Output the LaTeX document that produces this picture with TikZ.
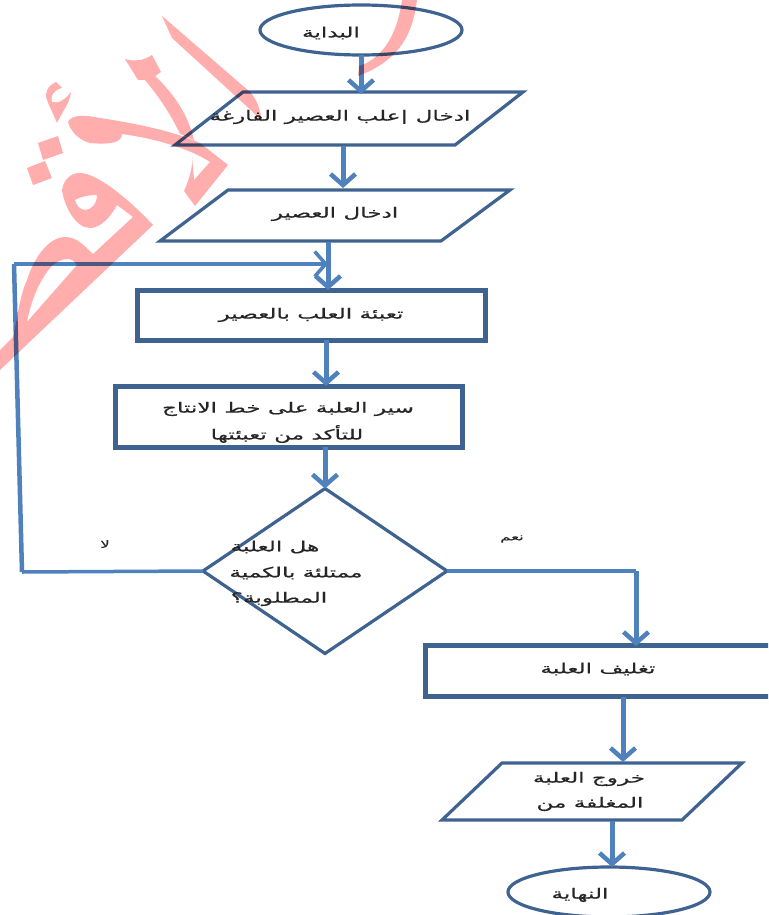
\documentclass[tikz,border=0pt]{standalone}
\usepackage{fontspec}
\usetikzlibrary{shapes.geometric,arrows.meta}
\newfontfamily\arabicfont[Script=Arabic,FakeStretch=1.65,FakeBold=0.6]{DejaVu Sans}
\TeXXeTstate=1
\definecolor{edge}{HTML}{3F6391}
\definecolor{flow}{HTML}{4F81BD}
\definecolor{wm}{HTML}{FFADAD}
\tikzset{
  x=1pt,y=-1pt,
  shape line/.style={draw=edge,line width=3.2pt,line join=miter},
  heavy/.style={draw=edge,line width=5pt,inner sep=0pt,outer sep=0pt},
  term/.style={shape=ellipse,shape line,inner sep=0pt,outer sep=0pt,minimum width=202pt,minimum height=50pt},
  dec/.style={shape=diamond,shape line,inner sep=0pt,outer sep=0pt,minimum width=244pt,minimum height=165pt},
  flowline/.style={draw=flow,line width=5pt,-{Straight Barb[length=11pt,width=25pt,line width=4.5pt]}},
  thin flow/.style={draw=flow,line width=3.5pt},
  lbl/.style={inner sep=0pt,font=\arabicfont\fontsize{14}{16}\selectfont,text=black!85},
  small lbl/.style={inner sep=0pt,font=\arabicfont\fontsize{10}{12}\selectfont,text=black!85},
  wmark/.style={fill=wm,draw=none}
}
\begin{document}
\begin{tikzpicture}
\useasboundingbox (0,0) rectangle (768,915);
\clip (0,0) rectangle (768,915);
\fill[white] (0,0) rectangle (768,915);
% nodes
\node[term] (start) at (361,30) {};
\node[lbl] (startT) at (331,33) {\beginR البداية\endR};
\coordinate (a1) at (243,92); \coordinate (a2) at (523,92); \coordinate (a3) at (455,145); \coordinate (a4) at (175,145);
\draw[shape line] (a1) -- (a2) -- (a3) -- (a4) -- cycle;
\node[lbl] (aT) at (340,117) {\beginR ادخال |علب العصير الفارغة\endR};
\coordinate (b1) at (228,190); \coordinate (b2) at (510,190); \coordinate (b3) at (441,241); \coordinate (b4) at (160,241);
\draw[shape line] (b1) -- (b2) -- (b3) -- (b4) -- cycle;
\node[lbl] (bT) at (335,214) {\beginR ادخال العصير\endR};
\node[heavy,minimum width=348pt,minimum height=50pt] (fill) at (311.5,315) {};
\node[lbl] (fillT) at (311,315) {\beginR تعبئة العلب بالعصير\endR};
\node[heavy,minimum width=347pt,minimum height=61pt] (belt) at (288.5,416.5) {};
\node[lbl] (beltT1) at (288,409) {\beginR سير العلبة على خط الانتاج\endR};
\node[lbl] (beltT2) at (287,434) {\beginR للتأكد من تعبئتها\endR};
\node[dec] (q) at (325,571) {};
\node[lbl] (qT1) at (275,547) {\beginR هل العلبة\endR};
\node[lbl] (qT2) at (296,573) {\beginR ممتلئة بالكمية\endR};
\node[lbl] (qT3) at (279,599) {\beginR المطلوبة؟\endR};
\node[small lbl] (no) at (105,544) {\beginR لا\endR};
\node[small lbl] (yes) at (512,539) {\beginR نعم\endR};
\node[heavy,minimum width=400pt,minimum height=51pt] (seal) at (625.5,671) {};
\node[lbl] (sealT) at (598,669) {\beginR تغليف العلبة\endR};
\coordinate (c1) at (502,763); \coordinate (c2) at (742,763); \coordinate (c3) at (682,820); \coordinate (c4) at (442,820);
\draw[shape line] (c1) -- (c2) -- (c3) -- (c4) -- cycle;
\node[lbl] (cT1) at (589,779) {\beginR خروج العلبة\endR};
\node[lbl] (cT2) at (590,804) {\beginR المغلفة من\endR};
\node[term] (end) at (609,892) {};
\node[lbl] (endT) at (580,895) {\beginR النهاية\endR};
% connector ends
\coordinate (aIn) at (361,94);
\coordinate (aOut) at (343,146);
\coordinate (bIn) at (343,188);
\coordinate (bOut) at (328,242);
\coordinate (fillIn) at (fill.north -| bOut);
\coordinate (fillOut) at (326,340);
\coordinate (beltIn) at (belt.north -| fillOut);
\coordinate (beltOut) at (325,447);
\coordinate (join) at (328,264);
\coordinate (loopA) at (22,572);
\coordinate (loopB) at (14,264);
\coordinate (sealIn) at (636,646);
\coordinate (sealOut) at (623,697);
\coordinate (cIn) at (623,762);
\coordinate (cOut) at (612,821);
\coordinate (corner) at (636,571);
% connectors
\draw[flowline] (start.south -| aIn) -- (aIn);
\draw[flowline] (aOut) -- (bIn);
\draw[flowline] (bOut) -- (fillIn);
\draw[flowline] (fillOut) -- (beltIn);
\draw[flowline] (beltOut) -- (q.north);
\draw[thin flow,line join=round] (q.west) -- (loopA);
\draw[flow,line width=4.5pt,line cap=square] (loopA) -- (loopB);
\draw[draw=flow,line width=3.5pt,-{Straight Barb[length=11pt,width=25pt,line width=3.5pt]}] (loopB) -- (join);
\draw[thin flow] (q.east) -- (corner);
\draw[flowline] (corner) -- (sealIn);
\draw[flowline] (sealOut) -- (cIn);
\draw[flowline] (cOut) -- (end.north -| cOut);
% watermark shapes, laid over the drawing
\begin{scope}[blend mode=multiply]
\fill[wmark] (162,16) -- (172,38) -- (254,113) -- (262,122) .. controls (260,108) and (257,100) .. (250,92) -- cycle;
\fill[wmark] (402,0) .. controls (398,30) and (385,58) .. (359,66) -- (358,76) .. controls (395,62) and (412,40) .. (417,0) -- cycle;
\fill[wmark] (125,59) .. controls (135,62) and (145,60) .. (152,55) -- (161,72) -- (155,76) .. controls (175,95) and (188,115) .. (194,140) -- (180,134) .. controls (170,112) and (155,92) .. (145,80) -- (138,80) -- cycle;
\fill[wmark] (68,122) .. controls (72,114) and (85,115) .. (100,118) .. controls (140,124) and (175,132) .. (200,143) -- (228,165) -- (195,206) -- (184,191) .. controls (190,178) and (193,165) .. (192,157) -- (194,180) -- (210,162) .. controls (195,152) and (165,140) .. (122,134) .. controls (122,142) and (112,145) .. (90,143) .. controls (78,140) and (70,130) .. (68,122) -- cycle;
\fill[wmark] (56,82) .. controls (48,86) and (44,92) .. (47,100) .. controls (50,108) and (54,115) .. (57,123) .. controls (62,112) and (70,103) .. (71,92) .. controls (65,100) and (58,104) .. (52,102) .. controls (50,95) and (54,90) .. (62,88) -- cycle;
\fill[wmark] (38,143) -- (58,136) -- (63,153) -- (43,160) -- cycle;
\fill[wmark] (27,168) -- (45,161) -- (52,178) -- (33,185) -- cycle;
\fill[wmark,even odd rule] (62,190) .. controls (64,178) and (72,173) .. (80,173) .. controls (95,173) and (125,195) .. (153,225) -- (0,370) -- (0,350) -- (13,337) .. controls (18,315) and (20,295) .. (27,280) .. controls (35,255) and (50,237) .. (65,237) .. controls (78,237) and (85,247) .. (93,254) -- (133,217) -- (117,205) .. controls (110,218) and (100,228) .. (90,228) .. controls (75,228) and (64,205) .. (62,190) -- cycle
  (75,200) .. controls (82,196) and (90,195) .. (97,195) .. controls (97,203) and (92,210) .. (85,210) .. controls (80,210) and (76,205) .. (75,200) -- cycle
  (27,322) .. controls (31,300) and (40,280) .. (50,268) .. controls (55,262) and (62,259) .. (68,259) .. controls (72,259) and (75,262) .. (77,265) -- cycle;
\end{scope}
\end{tikzpicture}
\end{document}
